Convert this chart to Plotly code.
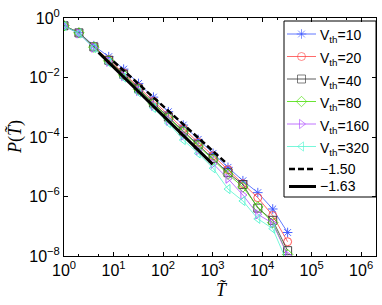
import plotly.graph_objects as go

# bin centres (T tilde), log2 bins
T = [1, 2, 4, 8, 16, 32, 64, 128, 256, 512, 1024, 2048, 4096, 8192, 16384, 32768]

# log10 P values
logP_10 = [-0.26, -0.49, -0.93, -1.30, -1.72, -2.20, -2.66, -3.15, -3.60, -4.08, -4.55, -5.02, -5.47, -5.87, -6.42, -7.21]
logP_20 = [-0.26, -0.50, -0.96, -1.40, -1.85, -2.33, -2.80, -3.27, -3.72, -4.18, -4.63, -5.10, -5.57, -6.04, -6.64, -7.52]
logP_40 = [-0.26, -0.50, -0.97, -1.42, -1.89, -2.38, -2.86, -3.33, -3.80, -4.26, -4.72, -5.20, -5.60, -6.39, -6.80, -7.82]
logP_80 = [-0.26, -0.50, -0.98, -1.44, -1.91, -2.40, -2.88, -3.36, -3.83, -4.30, -4.76, -5.25, -5.68, -6.35, -6.88, -7.95]
logP_160 = [-0.27, -0.52, -1.00, -1.47, -1.95, -2.45, -2.95, -3.45, -3.95, -4.45, -4.90, -5.40, -5.95, -6.60, -6.90, -7.98]
logP_320 = [-0.27, -0.52, -1.01, -1.50, -2.00, -2.50, -3.02, -3.53, -4.10, -4.55, -5.05, -5.75, -6.15, -6.75, -7.08, -8.25]

labels = ["V<sub>th</sub>=10", "V<sub>th</sub>=20", "V<sub>th</sub>=40",
          "V<sub>th</sub>=80", "V<sub>th</sub>=160", "V<sub>th</sub>=320"]
series = [logP_10, logP_20, logP_40, logP_80, logP_160, logP_320]
colors = ["#3a55ff", "#ff4545", "#333333", "#44dd00", "#b050ff", "#55f5d0"]
symbols = ["asterisk-open", "circle-open", "square-open", "diamond-open",
           "triangle-right-open", "triangle-left-open"]

# fitted power-law guide lines (endpoints)
fit_labels = ["\u22121.50", "\u22121.63"]
fit150_T = [10, 1900]
fit150_logP = [-1.46, -4.88]
fit163_T = [5, 1000]
fit163_logP = [-1.16, -4.91]

xtick_vals = [1, 10, 100, 1000, 1e4, 1e5, 1e6]
xtick_text = ["10<sup>0</sup>", "10<sup>1</sup>", "10<sup>2</sup>", "10<sup>3</sup>",
              "10<sup>4</sup>", "10<sup>5</sup>", "10<sup>6</sup>"]
ytick_vals = [1, 1e-2, 1e-4, 1e-6, 1e-8]
ytick_text = ["10<sup>0</sup>", "10<sup>\u22122</sup>", "10<sup>\u22124</sup>",
              "10<sup>\u22126</sup>", "10<sup>\u22128</sup>"]

# ---- layout geometry (pixels) ----
W, H = 382, 305
L, R, TOP, B = 64, 6, 18, 49
PW, PH = W - L - R, H - TOP - B


def fx(px):
    return (px - L) / PW


def fy(py):
    return (H - B - py) / PH


fig = go.Figure()
for lab, vals, c, s in zip(labels, series, colors, symbols):
    fig.add_trace(go.Scatter(
        x=T, y=[10 ** v for v in vals], mode="lines+markers", name=lab,
        showlegend=False,
        line=dict(color=c, width=0.8),
        marker=dict(symbol=s, size=8, color=c, line=dict(color=c, width=0.9)),
    ))

fit_styles = [dict(color="black", width=2.5, dash="6px,3px"), dict(color="black", width=3)]
for lab, tx, lp, st in zip(fit_labels, [fit150_T, fit163_T], [fit150_logP, fit163_logP], fit_styles):
    fig.add_trace(go.Scatter(
        x=tx, y=[10 ** v for v in lp], mode="lines", name=lab,
        showlegend=False, line=st,
    ))

# ---- hand-drawn legend (box, samples, texts) ----
leg_left, leg_right, leg_top, leg_bottom = 284, 376, 21, 197
row_y = [34, 56.5, 79, 101.5, 124, 146.5, 169, 186.5]
line_x0, line_x1, mark_x, text_x = 287, 316, 301.5, 318

fig.add_shape(type="rect", xref="paper", yref="paper",
              x0=fx(leg_left), x1=fx(leg_right), y0=fy(leg_bottom), y1=fy(leg_top),
              line=dict(color="black", width=1), fillcolor="white", layer="below")

all_labels = labels + fit_labels
for i, lab in enumerate(all_labels):
    yy = fy(row_y[i])
    if i < len(labels):
        fig.add_trace(go.Scatter(
            x=[fx(line_x0), fx(mark_x), fx(line_x1)], y=[yy, yy, yy],
            xaxis="x2", yaxis="y2", mode="lines+markers", showlegend=False, hoverinfo="skip",
            line=dict(color=colors[i], width=0.8),
            marker=dict(symbol=symbols[i], size=[0, 8, 0], color=colors[i],
                        line=dict(color=colors[i], width=0.9)),
        ))
        ty = fy(row_y[i] + 2.5)
    else:
        fig.add_trace(go.Scatter(
            x=[fx(line_x0 + 2), fx(line_x1)], y=[yy, yy],
            xaxis="x2", yaxis="y2", mode="lines", showlegend=False, hoverinfo="skip",
            line=fit_styles[i - len(labels)],
        ))
        ty = yy
    fig.add_annotation(x=fx(text_x), y=ty, xref="paper", yref="paper",
                       text=lab, showarrow=False, xanchor="left", yanchor="middle",
                       font=dict(family="Arial", size=14, color="black"))

axis_common = dict(
    showgrid=False, zeroline=False, showline=True, linecolor="black", linewidth=1,
    ticks="inside", ticklen=4, tickcolor="black", mirror="allticks",
    tickfont=dict(family="Arial", size=16, color="black"),
)

fig.update_xaxes(
    type="log", range=[0, 6.3], tickvals=xtick_vals, ticktext=xtick_text,
    minor=dict(ticks="inside", ticklen=2, tickcolor="black", showgrid=False),
    **axis_common,
)
fig.update_yaxes(
    type="log", range=[-8, 0], tickvals=ytick_vals, ticktext=ytick_text,
    **axis_common,
)

# axis titles
fig.add_annotation(x=fx(222), y=fy(290), xref="paper", yref="paper", showarrow=False,
                   text="<i>T\u0303</i>", xanchor="center", yanchor="middle",
                   font=dict(family="Liberation Serif, Times New Roman", size=18, color="black"))
fig.add_annotation(x=fx(15), y=fy(137), xref="paper", yref="paper", showarrow=False,
                   text="<i>P</i>(<i>T\u0303</i>)", textangle=-90, xanchor="center", yanchor="middle",
                   font=dict(family="Liberation Serif, Times New Roman", size=18, color="black"))

fig.update_layout(
    width=W, height=H,
    margin=dict(l=L, r=R, t=TOP, b=B),
    paper_bgcolor="white", plot_bgcolor="white",
    font=dict(family="Arial", size=13, color="black"),
    showlegend=False,
    xaxis2=dict(overlaying="x", anchor="y2", range=[0, 1], visible=False, fixedrange=True),
    yaxis2=dict(overlaying="y", anchor="x2", range=[0, 1], visible=False, fixedrange=True),
)

fig.write_html("out.html", config={"displayModeBar": False},
               post_script="document.body.style.margin='0px';document.body.style.overflow='hidden';")
